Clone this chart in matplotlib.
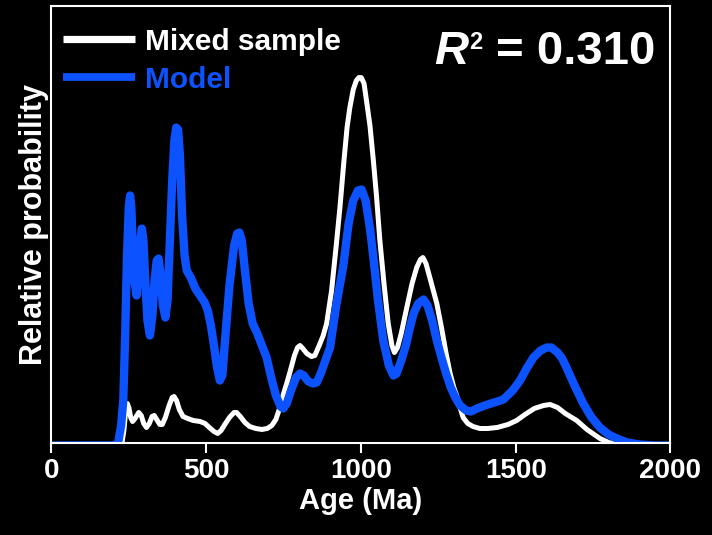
import matplotlib
matplotlib.use("Agg")
import matplotlib.pyplot as plt

# --- Fonts (Arial-like bold) ---
plt.rcParams['font.family'] = ['Liberation Sans', 'DejaVu Sans']
plt.rcParams['font.weight'] = 'bold'

# --- Data (age in Ma, relative probability in arbitrary units) ---
mixed_age = [0, 215, 228, 234, 240, 245, 250, 256, 262, 270, 282, 290, 298, 307, 316,
             325, 332, 340, 350, 358, 368, 380, 390, 396, 404, 413, 425, 440, 458, 480,
             496, 510, 525, 537, 548, 560, 575, 590, 598, 610, 625, 640, 660, 680, 697,
             712, 725, 738, 750, 760, 771, 785, 795, 803, 812, 825, 840, 851, 865, 878,
             889, 905, 920, 932, 945, 955, 964, 975, 985, 993, 1001, 1010, 1020, 1029, 1040,
             1050, 1061, 1075, 1088, 1100, 1108, 1118, 1130, 1148, 1165, 1180, 1192,
             1200, 1210, 1225, 1245, 1260, 1275, 1288, 1300, 1309, 1320, 1330, 1345,
             1362, 1384, 1410, 1440, 1475, 1503, 1530, 1560, 1590, 1611, 1635, 1660,
             1697, 1730, 1772, 1800, 1840, 2000]
mixed_prob = [0, 0, 3, 15, 35, 42, 38, 28, 24, 27, 33, 30, 22, 18, 22,
              29, 30, 26, 21, 21, 28, 40, 48, 49, 45, 36, 29, 27, 25, 24,
              22, 18, 14, 12, 15, 21, 28, 33, 33, 29, 23, 19, 17, 16, 17,
              20, 26, 38, 52, 62, 74, 90, 98, 100, 97, 92, 89, 90, 100, 110,
              122, 155, 200, 238, 285, 318, 338, 356, 365, 368, 368, 362, 340, 320, 285,
              250, 205, 160, 122, 100, 93, 98, 112, 138, 162, 178, 186,
              188, 182, 165, 142, 118, 92, 72, 58, 50, 38, 28, 22,
              19, 17, 17, 18, 21, 25, 31, 37, 40, 41, 38, 32,
              25, 16, 7, 3, 0, 0]

model_age = [0, 200, 215, 225, 232, 238, 244, 250, 254, 258, 263, 268, 275, 281, 287,
             292, 297, 303, 310, 318, 326, 333, 340, 346, 352, 360, 368, 375, 382, 390,
             397, 403, 409, 415, 422, 430, 437, 450, 465, 480, 495, 505, 515, 525, 535,
             544, 552, 562, 575, 590, 600, 607, 615, 625, 637, 650, 665, 680, 695, 710,
             725, 740, 749, 760, 775, 790, 803, 815, 830, 845, 857, 870, 885, 900, 920,
             943, 960, 975, 990, 1002, 1015, 1030, 1040, 1055, 1072, 1090, 1105, 1115,
             1130, 1145, 1158, 1170, 1185, 1202, 1215, 1230, 1245, 1260, 1275, 1290,
             1305, 1320, 1340, 1355, 1375, 1400, 1430, 1460, 1490, 1514, 1535, 1557,
             1580, 1600, 1615, 1635, 1650, 1664, 1690, 1718, 1745, 1772, 1800, 1826,
             1860, 1900, 1950, 2000]
model_prob = [0, 0, 2, 20, 45, 110, 190, 240, 250, 238, 195, 165, 150, 170, 205,
              217, 205, 165, 125, 110, 130, 165, 185, 187, 172, 140, 128, 145, 200, 265,
              305, 318, 316, 290, 230, 190, 175, 168, 157, 150, 143, 135, 120, 100, 78,
              65, 70, 110, 160, 200, 212, 213, 205, 175, 142, 122, 112, 100, 88, 68,
              50, 39, 37, 42, 56, 68, 72, 70, 64, 62, 63, 72, 85, 98, 140,
              180, 222, 245, 255, 256, 245, 215, 188, 145, 105, 80, 70, 72,
              85, 100, 118, 132, 142, 146, 140, 125, 105, 88, 72, 58,
              48, 40, 35, 34, 37, 40, 43, 46, 55, 65, 77, 88,
              95, 98, 98, 93, 87, 78, 60, 42, 28, 18, 11, 7,
              3, 1, 0, 0]

x_ticks = [0, 500, 1000, 1500, 2000]
r2_value = 0.310

blue = '#0d52ff'

fig = plt.figure(figsize=(7.12, 5.35), dpi=100, facecolor='black')
ax = fig.add_axes([0.0723, 0.172, 0.8694, 0.8175], facecolor='black')

ax.plot(mixed_age, mixed_prob, color='white', lw=3.6, label='Mixed sample',
        solid_joinstyle='round', solid_capstyle='round')
ax.plot(model_age, model_prob, color=blue, lw=6, label='Model',
        solid_joinstyle='round', solid_capstyle='round')

ax.set_xlim(0, 2000)
ax.set_ylim(2.5, 440)
ax.set_xticks(x_ticks)
ax.set_yticks([])
ax.tick_params(axis='x', colors='white', labelsize=20, length=7, width=1.5,
               direction='out', pad=4)
for lab in ax.get_xticklabels():
    lab.set_fontweight('bold')
for sp in ax.spines.values():
    sp.set_color('white')
    sp.set_linewidth(1.5)

ax.set_xlabel('Age (Ma)', color='white', fontsize=21, fontweight='bold', labelpad=2)
ax.set_ylabel('Relative probability', color='white', fontsize=22, fontweight='bold',
              labelpad=2)

leg = ax.legend(loc='upper left', bbox_to_anchor=(-0.01, 0.99), frameon=False,
                fontsize=21.5, handlelength=2.4, handletextpad=0.35,
                labelspacing=0.33, borderaxespad=0.2)
for txt, c in zip(leg.get_texts(), ['white', blue]):
    txt.set_color(c)
    txt.set_fontweight('bold')
for line, w in zip(leg.get_lines(), [5.2, 5.6]):
    line.set_linewidth(w)
    line.set_solid_capstyle('butt')

# R^2 annotation: italic R, small upright superscript 2, then the value
fig.text(468 / 712, 1 - 64 / 535, 'R', color='white', fontsize=34,
         fontweight='bold', fontstyle='italic', ha='right', va='baseline')
fig.text(469 / 712, 1 - 31 / 535, '2', color='white', fontsize=17,
         fontweight='bold', ha='left', va='top')
fig.text(655 / 712, 1 - 64 / 535, '= %.3f' % r2_value, color='white', fontsize=34,
         fontweight='bold', ha='right', va='baseline')

fig.savefig('out.png', dpi=100, facecolor='black')
